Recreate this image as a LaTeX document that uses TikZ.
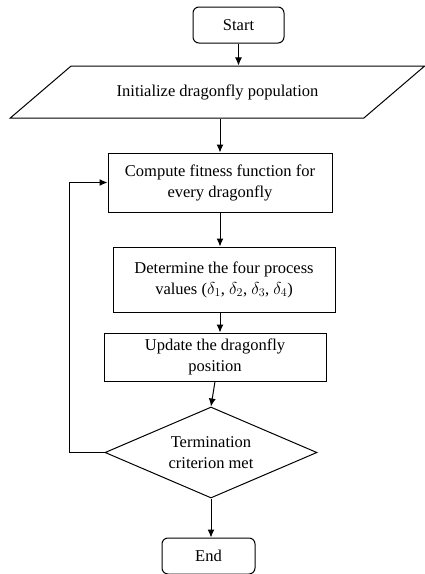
\documentclass[tikz,border=0pt]{standalone}
\usepackage{fontspec}
\setmainfont{Liberation Serif}
\usetikzlibrary{shapes.geometric,arrows.meta,positioning}
\tikzset{
    block/.style = {draw, rectangle, line width=1pt,
        align=center, inner sep=0pt},
    terminal/.style = {draw, rectangle, rounded corners=6pt, line width=1pt,
        minimum width=91pt, minimum height=36pt},
    io/.style = {draw, trapezium, trapezium left angle=26.8,
        trapezium right angle=153.2, trapezium stretches=true,
        line width=1pt, minimum width=415pt, minimum height=52pt},
    decision/.style = {draw, diamond, aspect=2.33, line width=1pt,
        minimum width=212pt, minimum height=91pt, align=center, inner sep=0pt},
    arrow/.style = {draw, line width=1pt, -{Latex[length=8pt,width=7pt]}}
}

\begin{document}
\begin{tikzpicture}[x=1pt, y=-1pt, font=\fontsize{16.5}{21}\selectfont]
  \useasboundingbox (0,0) rectangle (425,574);
  \node[terminal] (start) at (238.5,25) {Start};
  \node[io] (init) at (217.5,92) {Initialize dragonfly population};
  \node[block, minimum width=224pt, minimum height=59pt] (fitness) at (220,182.5)
    {Compute fitness function for\\every dragonfly};
  \node[block, minimum width=222pt, minimum height=65pt] (deltas) at (224,279.5)
    {Determine the four process\\values ($\delta_1$, $\delta_2$, $\delta_3$, $\delta_4$)};
  \node[block, minimum width=222pt, minimum height=48pt] (update) at (215,357)
    {Update the dragonfly\\position};
  \node[decision] (check) at (211,452.5) {Termination\\criterion met};
  \node[terminal, minimum width=93pt] (stop) at (208.5,556) {End};
  % connectors
  \draw[arrow] (start.south) -- (start.south |- init.north);
  \draw[arrow] (init.south -| fitness.north) -- (fitness.north);
  \draw[arrow] (fitness.south) -- (fitness.south |- deltas.north);
  \draw[arrow] (deltas.south -| fitness.south) -- (update.north -| fitness.south);
  \draw[arrow] (update.south) -- (check.north);
  \draw[arrow] (check.south) -- (check.south |- stop.north);
  \draw[arrow] (check.west) -- ++(-35,0) |- (fitness.west);
\end{tikzpicture}
\end{document}
